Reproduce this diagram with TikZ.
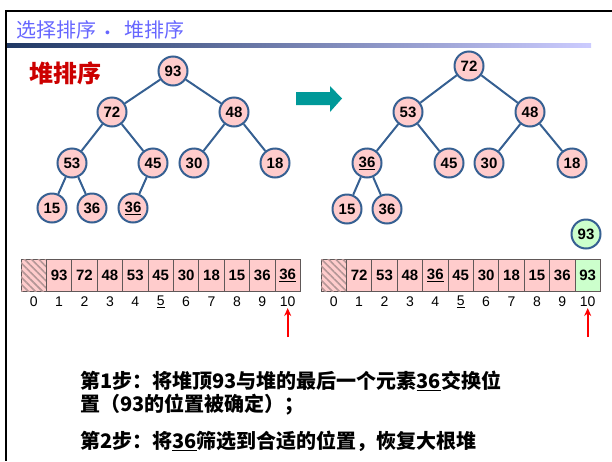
\documentclass[tikz,border=0pt]{standalone}
\usepackage{fontspec}
\setmainfont{Liberation Sans}
\newfontfamily\cjk{Noto Sans CJK SC}
\usetikzlibrary{patterns.meta,arrows.meta}
\definecolor{pinkc}{HTML}{FFCCCC}
\definecolor{greenc}{HTML}{CCFFCC}
\definecolor{edgec}{RGB}{54,96,146}
\definecolor{cellb}{HTML}{605858}
\definecolor{titlec}{HTML}{6666FF}
\definecolor{redc}{RGB}{204,0,0}
\definecolor{tealc}{HTML}{009999}
\definecolor{navyc}{RGB}{31,56,100}
\definecolor{lavc}{RGB}{204,204,255}
\definecolor{hatchc}{RGB}{180,150,150}
\tikzset{
  hnode/.style={circle,draw=edgec,line width=2pt,fill=pinkc,minimum size=29pt,inner sep=0pt,font=\fontsize{15}{15}\selectfont\bfseries},
  gnode/.style={hnode,fill=greenc},
  tedge/.style={draw=edgec,line width=2pt},
  cell/.style={rectangle,draw=cellb,line width=0.8pt,fill=pinkc,minimum width=25.4pt,minimum height=32pt,inner sep=0pt,font=\fontsize{15}{15}\selectfont\bfseries},
  gcell/.style={cell,fill=greenc},
  hcell/.style={cell,postaction={pattern={Lines[angle=-45,distance=5pt,line width=1.6pt]},pattern color=hatchc}},
  idx/.style={inner sep=0pt,font=\fontsize{14}{14}\selectfont},
  redarrow/.style={draw=red,line width=1.8pt,-{Stealth[length=8pt,width=7pt]}},
  steptext/.style={anchor=west,inner sep=0pt,font=\cjk\bfseries\fontsize{20}{20}\selectfont}
}
\begin{document}
\begin{tikzpicture}[x=1pt,y=-1pt]
\useasboundingbox (0,0) rectangle (612,461);
% frame
\draw[black,line width=2.2pt] (5,11) -- (612,11);
\draw[black,line width=2.2pt] (6,10) -- (6,461);
\shade[left color=navyc,right color=lavc] (7,43.5) rectangle (591,47);
% title
\node[anchor=west,inner sep=0pt,text=titlec,font=\cjk\fontsize{20}{20}\selectfont] (title) at (16,30) {选择排序\hspace{9pt}{\rmfamily\fontsize{14}{14}\selectfont•}\hspace{14pt}堆排序};
\node[anchor=west,inner sep=0pt,text=redc,font=\cjk\bfseries\fontsize{24}{24}\selectfont] (heading) at (29,73) {堆排序};
% tree 1
\node[hnode] (a93) at (173,71) {93};
\node[hnode] (a72) at (112,112) {72};
\node[hnode] (a48) at (234,112) {48};
\node[hnode] (a53) at (72,163) {53};
\node[hnode] (a45) at (153,163) {45};
\node[hnode] (a30) at (194,163) {30};
\node[hnode] (a18) at (275,163) {18};
\node[hnode] (a15) at (52,208) {15};
\node[hnode] (a36) at (92,208) {36};
\node[hnode] (a36u) at (133,208) {\underline{36}};
\foreach \p/\c in {a93/a72,a93/a48,a72/a53,a72/a45,a48/a30,a48/a18,a53/a15,a53/a36,a45/a36u}
  \draw[tedge] (\p) -- (\c);
% tree 2
\node[hnode] (b72) at (469,66) {72};
\node[hnode] (b53) at (408,112) {53};
\node[hnode] (b48) at (530,112) {48};
\node[hnode] (b36u) at (367,163) {\underline{36}};
\node[hnode] (b45) at (449,163) {45};
\node[hnode] (b30) at (489,163) {30};
\node[hnode] (b18) at (572,163) {18};
\node[hnode] (b15) at (347,209) {15};
\node[hnode] (b36) at (387,209) {36};
\node[gnode] (b93) at (586,234) {93};
\foreach \p/\c in {b72/b53,b72/b48,b53/b36u,b53/b45,b48/b30,b48/b18,b36u/b15,b36u/b36}
  \draw[tedge] (\p) -- (\c);
% teal arrow
\fill[tealc] (296,92) -- (330,92) -- (330,86) -- (342,98.5) -- (330,112) -- (330,105) -- (296,105) -- cycle;
% array 1
\node[hcell] (l0) at ({21+25.4*0.5},275) {};
\foreach \i/\v in {1/93,2/72,3/48,4/53,5/45,6/30,7/18,8/15,9/36,10/\underline{36}}
  \node[cell] (l\i) at ({21+25.4*(\i+0.5)},275) {\v};
\foreach \i/\t in {0/0,1/1,2/2,3/3,4/4,5/\underline{5},6/6,7/7,8/8,9/9,10/10}
  \node[idx] (li\i) at ({21+25.4*(\i+0.5)},301.5) {\t};
\coordinate (lt) at ({21+25.4*10.5},337);
\coordinate (lh) at ({21+25.4*10.5},308);
\draw[redarrow] (lt) -- (lh);
% array 2
\node[hcell] (r0) at ({321+25.4*0.5},275) {};
\foreach \i/\v in {1/72,2/53,3/48,4/\underline{36},5/45,6/30,7/18,8/15,9/36}
  \node[cell] (r\i) at ({321+25.4*(\i+0.5)},275) {\v};
\node[gcell] (r10) at ({321+25.4*10.5},275) {93};
\foreach \i/\t in {0/0,1/1,2/2,3/3,4/4,5/\underline{5},6/6,7/7,8/8,9/9,10/10}
  \node[idx] (ri\i) at ({321+25.4*(\i+0.5)},301.5) {\t};
\coordinate (rt) at ({321+25.4*10.5},337);
\coordinate (rh) at ({321+25.4*10.5},308);
\draw[redarrow] (rt) -- (rh);
% steps
\node[steptext] (s1) at (80,381) {第1步：将堆顶93与堆的最后一个元素\underline{36}交换位};
\node[steptext] (s1b) at (80,405) {置（93的位置被确定）；};
\node[steptext] (s2) at (80,441) {第2步：将\underline{36}筛选到合适的位置，恢复大根堆};
\end{tikzpicture}
\end{document}
